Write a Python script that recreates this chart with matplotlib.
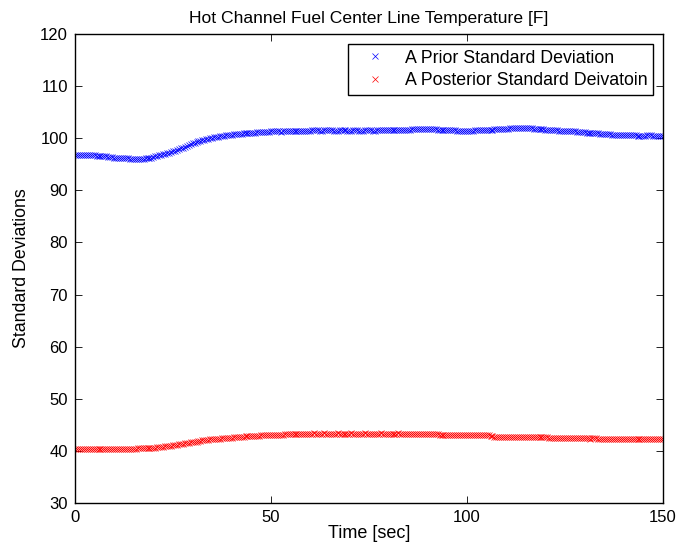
import numpy as np
import matplotlib
matplotlib.use("Agg")
import matplotlib.pyplot as plt

# time axis, samples every 0.5 s
time = np.arange(0, 150.5, 0.5)

prior_std = [
    96.8, 96.8, 96.8, 96.7, 96.8, 96.8, 96.7, 96.7, 96.8, 96.7,
    96.7, 96.6, 96.6, 96.6, 96.5, 96.5, 96.5, 96.4, 96.4, 96.4,
    96.3, 96.3, 96.3, 96.3, 96.2, 96.2, 96.2, 96.2, 96.1, 96.1,
    96.1, 96.1, 96.1, 96.0, 96.1, 96.1, 96.2, 96.2, 96.3, 96.3,
    96.4, 96.5, 96.6, 96.7, 96.8, 96.9, 97.0, 97.1, 97.2, 97.3,
    97.5, 97.6, 97.8, 97.9, 98.1, 98.2, 98.4, 98.5, 98.7, 98.8,
    99.0, 99.1, 99.2, 99.4, 99.5, 99.6, 99.7, 99.8, 99.9, 100.0,
    100.1, 100.2, 100.3, 100.3, 100.4, 100.5, 100.5, 100.6, 100.6, 100.7,
    100.7, 100.8, 100.8, 100.9, 100.9, 100.9, 101.0, 101.0, 101.0, 101.1,
    101.1, 101.1, 101.1, 101.2, 101.2, 101.2, 101.2, 101.2, 101.2, 101.2,
    101.3, 101.3, 101.3, 101.3, 101.3, 101.2, 101.3, 101.3, 101.3, 101.3,
    101.3, 101.4, 101.4, 101.4, 101.4, 101.4, 101.4, 101.4, 101.4, 101.4,
    101.4, 101.5, 101.5, 101.5, 101.5, 101.4, 101.4, 101.5, 101.5, 101.5,
    101.5, 101.5, 101.4, 101.4, 101.4, 101.5, 101.5, 101.5, 101.5, 101.4,
    101.4, 101.4, 101.5, 101.5, 101.5, 101.4, 101.4, 101.4, 101.5, 101.5,
    101.5, 101.5, 101.4, 101.4, 101.5, 101.5, 101.5, 101.6, 101.6, 101.5,
    101.5, 101.5, 101.5, 101.6, 101.6, 101.6, 101.6, 101.5, 101.5, 101.6,
    101.6, 101.6, 101.7, 101.7, 101.7, 101.8, 101.8, 101.8, 101.8, 101.8,
    101.8, 101.8, 101.7, 101.7, 101.7, 101.6, 101.6, 101.6, 101.6, 101.5,
    101.5, 101.5, 101.5, 101.5, 101.5, 101.4, 101.4, 101.4, 101.4, 101.4,
    101.4, 101.4, 101.4, 101.4, 101.5, 101.5, 101.5, 101.5, 101.5, 101.6,
    101.6, 101.6, 101.6, 101.6, 101.7, 101.7, 101.7, 101.7, 101.8, 101.8,
    101.8, 101.8, 101.9, 101.9, 101.9, 101.9, 102.0, 102.0, 102.0, 102.0,
    102.0, 101.9, 101.9, 101.9, 101.8, 101.8, 101.8, 101.7, 101.7, 101.7,
    101.6, 101.6, 101.6, 101.5, 101.5, 101.5, 101.5, 101.4, 101.4, 101.4,
    101.4, 101.3, 101.3, 101.3, 101.3, 101.3, 101.2, 101.2, 101.2, 101.2,
    101.2, 101.1, 101.1, 101.1, 101.1, 101.0, 101.0, 101.0, 100.9, 100.9,
    100.9, 100.8, 100.8, 100.8, 100.7, 100.7, 100.7, 100.7, 100.6, 100.6,
    100.7, 100.7, 100.6, 100.6, 100.6, 100.6, 100.6, 100.5, 100.5, 100.5,
    100.5, 100.5, 100.6, 100.6, 100.6, 100.5, 100.5, 100.5, 100.5, 100.5,
    100.5,
]

posterior_std = [
    40.3, 40.3, 40.3, 40.3, 40.3, 40.3, 40.3, 40.3, 40.3, 40.3,
    40.3, 40.3, 40.3, 40.3, 40.3, 40.3, 40.3, 40.3, 40.3, 40.3,
    40.3, 40.3, 40.3, 40.3, 40.3, 40.3, 40.3, 40.3, 40.3, 40.3,
    40.4, 40.4, 40.5, 40.5, 40.5, 40.5, 40.5, 40.5, 40.5, 40.6,
    40.6, 40.6, 40.7, 40.7, 40.8, 40.8, 40.9, 40.9, 41.0, 41.0,
    41.1, 41.1, 41.2, 41.3, 41.3, 41.4, 41.5, 41.5, 41.6, 41.7,
    41.7, 41.8, 41.8, 41.9, 41.9, 42.0, 42.0, 42.1, 42.1, 42.2,
    42.2, 42.2, 42.3, 42.3, 42.3, 42.4, 42.4, 42.4, 42.5, 42.5,
    42.5, 42.6, 42.6, 42.6, 42.7, 42.7, 42.7, 42.8, 42.8, 42.8,
    42.8, 42.9, 42.9, 42.9, 42.9, 43.0, 43.0, 43.0, 43.0, 43.0,
    43.0, 43.0, 43.1, 43.1, 43.1, 43.1, 43.1, 43.2, 43.2, 43.2,
    43.3, 43.3, 43.3, 43.3, 43.3, 43.3, 43.3, 43.3, 43.3, 43.3,
    43.3, 43.3, 43.4, 43.3, 43.3, 43.3, 43.3, 43.4, 43.3, 43.3,
    43.3, 43.3, 43.3, 43.3, 43.4, 43.3, 43.3, 43.3, 43.3, 43.3,
    43.3, 43.4, 43.3, 43.3, 43.3, 43.3, 43.3, 43.3, 43.4, 43.3,
    43.3, 43.3, 43.3, 43.3, 43.3, 43.3, 43.4, 43.3, 43.3, 43.3,
    43.3, 43.3, 43.3, 43.3, 43.3, 43.4, 43.3, 43.3, 43.3, 43.3,
    43.3, 43.3, 43.3, 43.3, 43.3, 43.3, 43.3, 43.3, 43.3, 43.3,
    43.3, 43.3, 43.2, 43.2, 43.2, 43.2, 43.1, 43.1, 43.1, 43.1,
    43.0, 43.0, 43.0, 43.0, 43.0, 43.0, 43.0, 43.0, 43.0, 43.0,
    43.0, 43.0, 43.0, 43.0, 43.0, 43.0, 43.0, 43.0, 43.0, 43.0,
    43.0, 43.0, 42.9, 42.8, 42.7, 42.7, 42.7, 42.7, 42.7, 42.7,
    42.7, 42.7, 42.7, 42.7, 42.7, 42.7, 42.6, 42.7, 42.7, 42.6,
    42.6, 42.6, 42.6, 42.6, 42.6, 42.6, 42.6, 42.6, 42.6, 42.6,
    42.6, 42.6, 42.5, 42.5, 42.4, 42.4, 42.4, 42.4, 42.4, 42.4,
    42.4, 42.4, 42.4, 42.4, 42.4, 42.4, 42.4, 42.4, 42.4, 42.4,
    42.4, 42.4, 42.4, 42.3, 42.4, 42.4, 42.4, 42.3, 42.3, 42.3,
    42.3, 42.3, 42.3, 42.3, 42.3, 42.3, 42.3, 42.3, 42.3, 42.3,
    42.3, 42.3, 42.3, 42.3, 42.3, 42.3, 42.3, 42.3, 42.3, 42.3,
    42.3, 42.3, 42.3, 42.3, 42.3, 42.3, 42.3, 42.3, 42.3, 42.3,
    42.3,
]

plt.rcParams['font.family'] = ['Liberation Sans', 'DejaVu Sans']
plt.rcParams['font.size'] = 12

fig = plt.figure(figsize=(6.8, 5.56), dpi=100)
ax = fig.add_axes([0.1103, 0.0953, 0.8647, 0.8435])

ax.plot(time, prior_std, 'x', color='#0000ff', markersize=4, markeredgewidth=0.5,
        label='A Prior Standard Deviation')
ax.plot(time, posterior_std, 'x', color='#ff0000', markersize=4, markeredgewidth=0.5,
        label='A Posterior Standard Deivatoin')

ax.set_xlim(0, 150)
ax.set_ylim(30, 120)
ax.set_xticks([0, 50, 100, 150])
ax.set_yticks(np.arange(30, 121, 10))
ax.tick_params(direction='in', top=True, right=True, length=5, width=0.6, pad=5)
for s in ax.spines.values():
    s.set_linewidth(1.0)

ax.set_title('Hot Channel Fuel Center Line Temperature [F]', fontsize=12.6, pad=8)
ax.set_xlabel('Time [sec]', fontsize=13, labelpad=0)
ax.set_ylabel('Standard Deviations', fontsize=12.8, labelpad=7)

leg = ax.legend(loc='upper right', fancybox=False, edgecolor='black', framealpha=1,
                borderaxespad=0.55, handletextpad=0.5, labelspacing=0.32,
                borderpad=0.33, handlelength=2.35, fontsize=12.8)
leg.get_frame().set_linewidth(1.0)

fig.savefig('out.png', dpi=100)
